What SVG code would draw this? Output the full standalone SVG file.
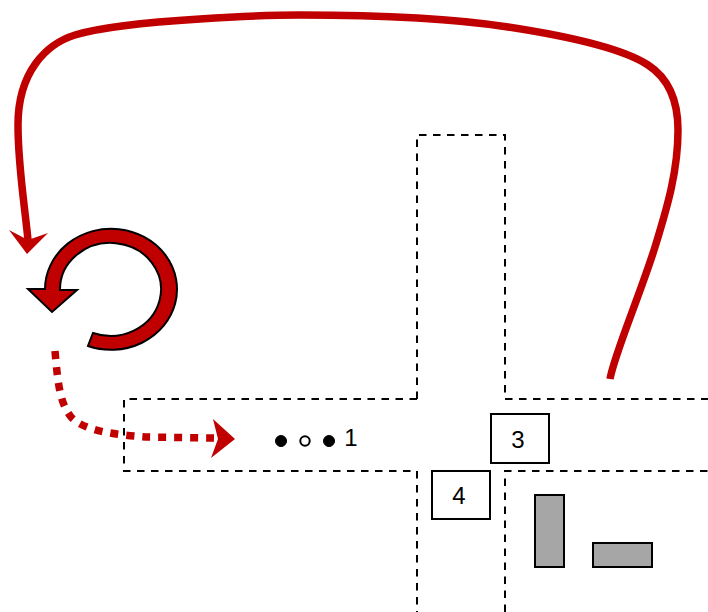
<svg xmlns="http://www.w3.org/2000/svg" width="708" height="612" viewBox="0 0 708 612">
<style>
.d{fill:none;stroke:#000;stroke-width:2;stroke-dasharray:7.500 6.500}
.r{fill:none;stroke:#c00000;stroke-width:7.500}
.b{fill:#fff;stroke:#000;stroke-width:2}
.g{fill:#a6a6a6;stroke:#000;stroke-width:2}
.t{font-family:"Liberation Sans",Arial,sans-serif;font-size:24px;fill:#000;text-anchor:middle}
</style>
<rect width="708" height="612" fill="#fff"/>
<g id="road">
<path class="d" d="M417 399V135H505V399H708"/>
<path class="d" d="M417 399H124V471H417V612"/>
<path class="d" d="M505 612V471H708"/>
</g>
<g id="connectors">
<path class="r" d="M610 379C614 355 640 295 655 247C668 205 678 170 678 130C678 100 668 78 648 65C625 50 580 38 508 27C450 18 370 15 300 15C260 15 230 17 200 19C150 22 105 26 75 35C46 44 18 72 18 125C18 165 24 200 28 240"/>
<path fill="#c00000" d="M9 230L27 254L48 233L28 240Z"/>
<path class="r" stroke-width="7" stroke-dasharray="8 8" d="M55 351C58 385 60 403 71 417C85 432 120 435 146 437L214 438"/>
<path fill="#c00000" d="M213 419L235 439L211 458L218 439Z"/>
</g>
<g id="turn">
<path d="M88 346A66 60.500 0 1 0 45 289H28L52 312L77 290H60A50.500 46.500 0 1 1 93 333Z" fill="#c00000" stroke="#000" stroke-width="2"/>
</g>
<g id="dots">
<circle cx="281" cy="441" r="5.500" fill="#000" stroke="#000"/>
<circle cx="305" cy="441" r="4.700" fill="#fff" stroke="#000" stroke-width="2"/>
<circle cx="329" cy="441" r="5.500" fill="#000" stroke="#000"/>
<text class="t" x="351" y="446">1</text>
</g>
<g id="node3"><rect class="b" x="491" y="414" width="58" height="49"/><text class="t" x="518" y="448">3</text></g>
<g id="node4"><rect class="b" x="432" y="471" width="58" height="48"/><text class="t" x="459" y="504">4</text></g>
<g id="bar1"><rect class="g" x="535" y="495" width="29" height="72"/></g>
<g id="bar2"><rect class="g" x="593" y="543" width="59" height="24"/></g>
</svg>
